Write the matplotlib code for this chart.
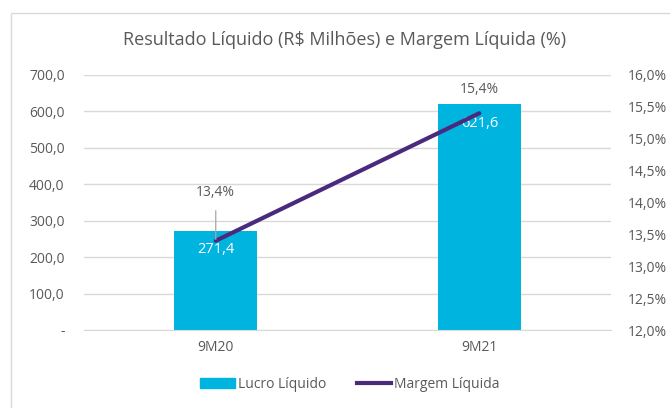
import matplotlib
matplotlib.use("Agg")
import matplotlib.pyplot as plt
from matplotlib.patches import Rectangle
from matplotlib.lines import Line2D
from matplotlib.ticker import FuncFormatter

plt.rcParams["font.family"] = ["Open Sans", "DejaVu Sans"]

categories = ["9M20", "9M21"]
lucro = [271.4, 621.6]
margem = [13.4, 15.4]
left_ticks = [0, 100, 200, 300, 400, 500, 600, 700]
right_ticks = [12.0, 12.5, 13.0, 13.5, 14.0, 14.5, 15.0, 15.5, 16.0]

BAR = "#00B4E0"
LINE = "#4B2A7E"
TXT = "#595959"
GRID = "#D9D9D9"

fig = plt.figure(figsize=(6.70, 4.08), dpi=100)
fig.patch.set_facecolor("white")

# chart frame (excel style)
fig.add_artist(Rectangle((11 / 670, -0.2), 1.2, 1.2 - 13 / 408,
                         transform=fig.transFigure, fill=False,
                         edgecolor="#D9D9D9", linewidth=1.0))

ax = fig.add_axes([84 / 670, 1 - 330 / 408, 527 / 670, 255 / 408])
ax2 = ax.twinx()

x = list(range(len(categories)))

# ── bars ─────────────────────────────────────────────
ax.bar(x, lucro, width=0.315, color=BAR, zorder=2)
ax.set_xlim(-0.5, 1.5)
ax.set_ylim(0, 700)
ax.set_yticks(left_ticks)
ax.yaxis.set_major_formatter(FuncFormatter(
    lambda v, p: "-" if v == 0 else f"{v:.1f}".replace(".", ",")))
ax.set_xticks(x)
ax.set_xticklabels(categories)
ax.grid(axis="y", color=GRID, linewidth=1.0, zorder=0)
ax.set_axisbelow(True)
for s in ax.spines.values():
    s.set_visible(False)
ax.spines["bottom"].set_visible(True)
ax.spines["bottom"].set_color(GRID)
ax.tick_params(axis="y", length=0, pad=14, labelsize=10, labelcolor=TXT)
ax.tick_params(axis="x", length=0, pad=7, labelsize=10, labelcolor=TXT)

for xi, v, off in zip(x, lucro, [-13, -14]):
    ax.annotate(f"{v:.1f}".replace(".", ","), (xi, v), xytext=(0, off),
                textcoords="offset points", ha="center", va="center",
                color="white", fontsize=10.5, zorder=5)

# ── line ─────────────────────────────────────────────
ax2.plot(x, margem, color=LINE, linewidth=3, solid_capstyle="round", zorder=3)
ax2.set_ylim(12, 16)
ax2.set_yticks(right_ticks)
ax2.yaxis.set_major_formatter(FuncFormatter(
    lambda v, p: f"{v:.1f}%".replace(".", ",")))
for s in ax2.spines.values():
    s.set_visible(False)
ax2.tick_params(axis="y", length=0, pad=12, labelsize=10, labelcolor=TXT)

ax2.annotate(f"{margem[0]:.1f}%".replace(".", ","), (x[0], margem[0]),
             xytext=(0, 35), textcoords="offset points", ha="center",
             va="center", color=TXT, fontsize=10,
             arrowprops=dict(arrowstyle="-", color="#A6A6A6", lw=0.9,
                             shrinkA=6, shrinkB=1))
ax2.annotate(f"{margem[1]:.1f}%".replace(".", ","), (x[1], margem[1]),
             xytext=(0, 17), textcoords="offset points", ha="center",
             va="center", color=TXT, fontsize=10)

fig.text(345 / 670, 1 - 40 / 408,
         "Resultado Líquido (R$ Milhões) e Margem Líquida (%)",
         ha="center", va="center", fontsize=13, color=TXT)

handles = [Rectangle((0, 0), 1, 1, color=BAR),
           Line2D([], [], color=LINE, linewidth=3)]
fig.legend(handles, ["Lucro Líquido", "Margem Líquida"],
           loc="center", bbox_to_anchor=(350 / 670, 1 - 384 / 408),
           ncol=2, frameon=False, fontsize=10, labelcolor=TXT,
           handlelength=2.5, handletextpad=0.2, columnspacing=2.2)

fig.savefig("out.png", dpi=100)
